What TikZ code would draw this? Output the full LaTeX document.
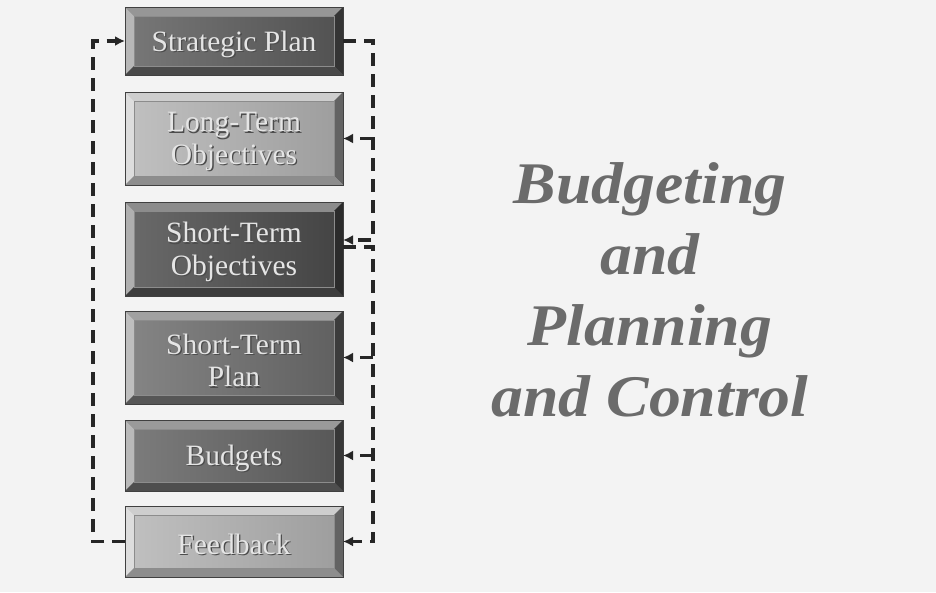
\documentclass[tikz,border=0pt]{standalone}
\usepackage{fontspec}
\setmainfont{Liberation Serif}
\newfontfamily\titlefont[FakeStretch=1.08]{Liberation Serif}
\usetikzlibrary{arrows.meta}
\definecolor{bgpaper}{HTML}{F3F3F3}
\definecolor{sgray}{HTML}{5E5E5E}
\definecolor{lgray}{HTML}{B4B4B4}
\definecolor{dgray}{HTML}{4E4E4E}
\definecolor{mgray}{HTML}{6E6E6E}
\definecolor{bgray}{HTML}{646464}
\definecolor{ttlgray}{HTML}{6B6B6B}
\begin{document}
\begin{tikzpicture}[x=1pt,y=-1pt,
  boxtxt/.style={font=\fontsize{29.5}{32.5}\selectfont,align=center,inner sep=0pt,text=white!90!black},
  boxshd/.style={boxtxt,text=black!70},
  pnl/.style 2 args={draw=black!75,line width=0.7pt,fill=#1,minimum width=218pt,inner sep=0pt,outer sep=0pt,
    path picture={
      \coordinate (A) at (path picture bounding box.north west);
      \coordinate (B) at (path picture bounding box.north east);
      \coordinate (C) at (path picture bounding box.south east);
      \coordinate (D) at (path picture bounding box.south west);
      \coordinate (a) at ([shift={(9pt,-9pt)}]A);
      \coordinate (b) at ([shift={(-9pt,-9pt)}]B);
      \coordinate (c) at ([shift={(-9pt,9pt)}]C);
      \coordinate (d) at ([shift={(9pt,9pt)}]D);
      \shade[left color=#1!85!white,right color=#1!88!black] (a) rectangle (c);
      \fill[#1!65!white] (A) -- (B) -- (b) -- (a) -- cycle;
      \fill[#1!45!white] (A) -- (a) -- (d) -- (D) -- cycle;
      \fill[#1!55!black] (B) -- (C) -- (c) -- (b) -- cycle;
      \fill[#1!78!black] (D) -- (C) -- (c) -- (d) -- cycle;
      \draw[black!45,line width=0.5pt] (a) rectangle (c);
      \node[boxshd] at ([shift={(1.3pt,-4.3pt)}]path picture bounding box.center) {#2};
      \node[boxtxt] at ([shift={(0pt,-3pt)}]path picture bounding box.center) {#2};
    }},
  fbline/.style={line width=3.2pt,black!85,dash pattern=on 13pt off 8pt},
  fbarrow/.style={fbline,-{Latex[length=10pt,width=10pt]}}]
\fill[bgpaper] (0,0) rectangle (936,592);
\useasboundingbox (0,0) rectangle (936,592);
% boxes
\node[pnl={sgray}{Strategic Plan},minimum height=68pt] (sp) at (234,41) {};
\node[pnl={lgray}{Long-Term\\Objectives},minimum height=93pt] (lto) at (234,138.5) {};
\node[pnl={dgray}{Short-Term\\Objectives},minimum height=94pt] (sto) at (234,249) {};
\node[pnl={mgray}{Short-Term\\Plan},minimum height=93pt] (stp) at (234,357.5) {};
\node[pnl={bgray}{Budgets},minimum height=71pt] (bud) at (234,455.5) {};
\node[pnl={lgray}{Feedback},minimum height=71pt] (fb) at (234,541.5) {};
% feedback loop on the left
\draw[fbarrow] (fb.west) -- ++(-32,0) |- (sp.west);
% links on the right
\draw[fbarrow] (sp.east) -- ++(30,0) coordinate (r1) |- ([yshift=9pt]sto.east);
\draw[fbarrow] (r1 |- lto.east) -- (lto.east);
\draw[fbarrow] ([yshift=2pt]sto.east) -- ++(30,0) coordinate (r2) |- (fb.east);
\draw[fbarrow] (r2 |- stp.east) -- (stp.east);
\draw[fbarrow] (r2 |- bud.east) -- (bud.east);
% title
\node[anchor=north,align=center,inner sep=0pt,text=ttlgray,
  font=\titlefont\bfseries\itshape\fontsize{59}{71}\selectfont] (ttl) at (650,162)
  {Budgeting\\and\\Planning\\and Control};
\end{tikzpicture}
\end{document}
